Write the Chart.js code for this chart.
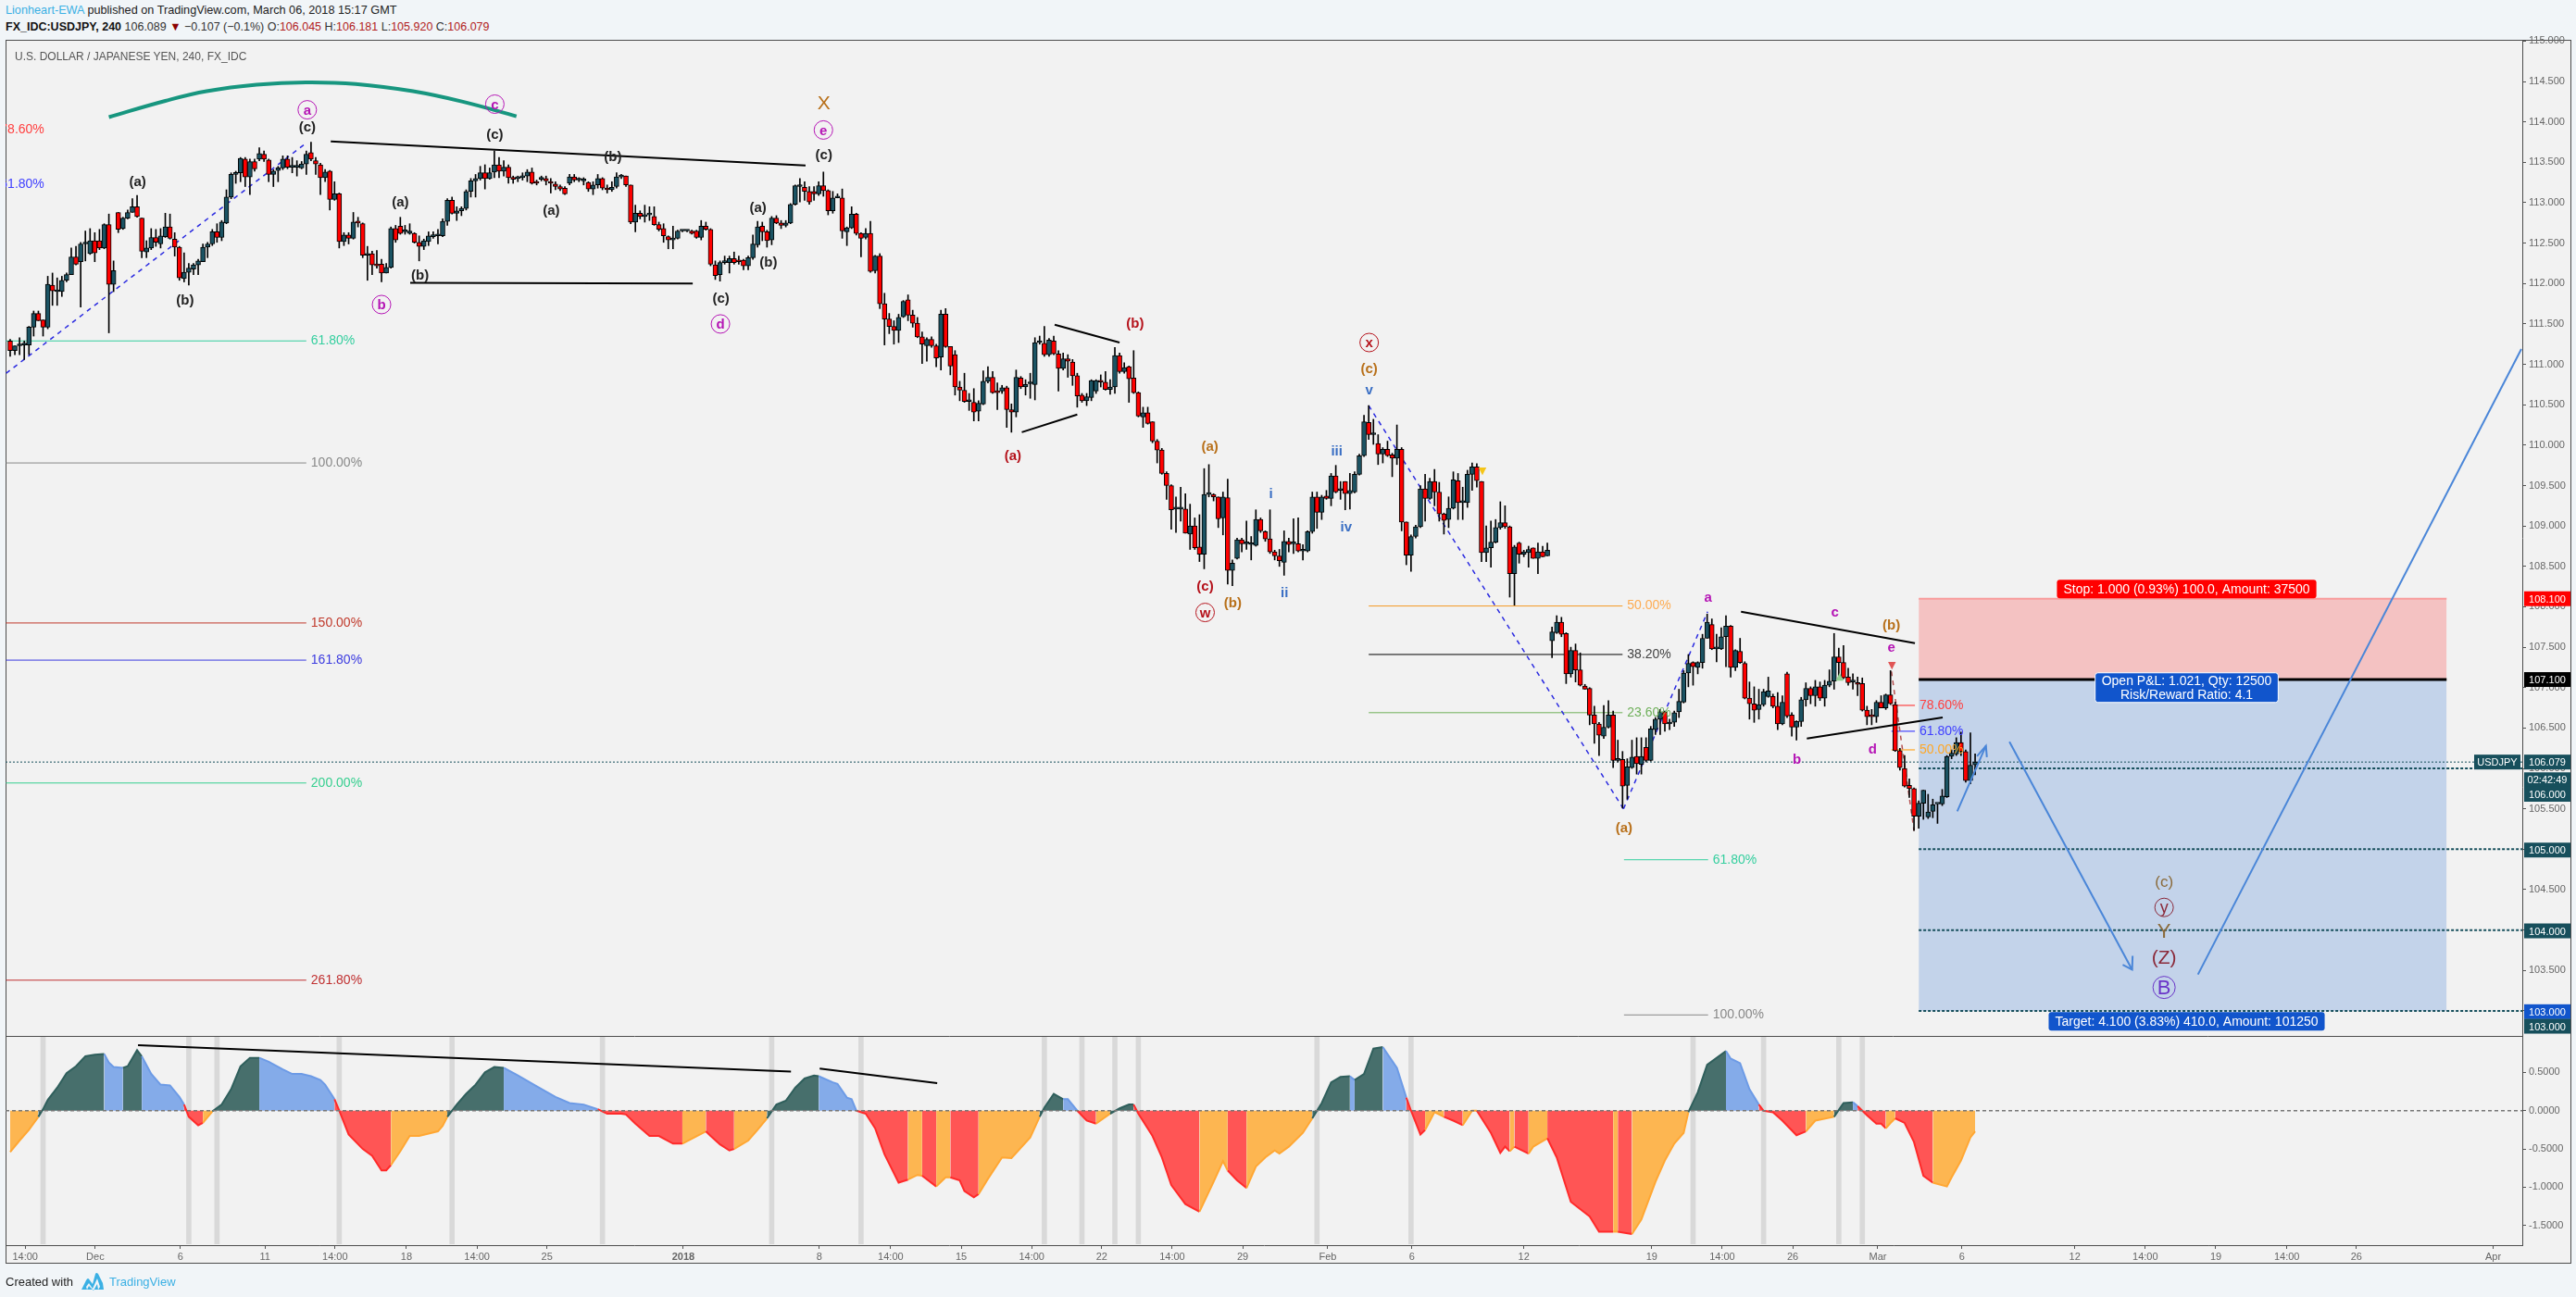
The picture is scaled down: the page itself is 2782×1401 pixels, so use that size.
<!DOCTYPE html>
<html>
<head>
<meta charset="utf-8">
<title>USDJPY 240</title>
<script src="https://cdn.jsdelivr.net/npm/chart.js@4/dist/chart.umd.min.js"></script>
<style>
  html, body { margin: 0; padding: 0; width: 2782px; height: 1401px; overflow: hidden; background: #f1f5f8; font-family: "Liberation Sans", Arial, sans-serif; }
  #frame { position: absolute; left: 6px; top: 43px; width: 2769px; height: 1320px; background: #f2f2f2; border: 1px solid #4d4d4d; }
  #usdjpyChart { position: absolute; left: 0; top: 0; }
  .txt { position: absolute; white-space: nowrap; }
  .blue { color: #3bb0e4; }
  .val { color: #b22222; }
</style>
</head>
<body>
<div class="txt" style="left:6px;top:4px;font-size:12.7px;color:#222"><span class="blue">Lionheart-EWA</span> published on TradingView.com, March 06, 2018 15:17 GMT</div>
<div class="txt" style="left:6px;top:22px;font-size:12.5px;color:#333"><b style="color:#111">FX_IDC:USDJPY, 240</b> 106.089 <span style="color:#8b0000">▼</span> −0.107 (−0.1%) O:<span class="val">106.045</span> H:<span class="val">106.181</span> L:<span class="val">105.920</span> C:<span class="val">106.079</span></div>
<div id="frame"></div>
<canvas id="usdjpyChart" width="2782" height="1401"></canvas>
<div class="txt" style="left:16px;top:54px;font-size:12px;color:#555;z-index:2">U.S. DOLLAR / JAPANESE YEN, 240, FX_IDC</div>
<div class="txt" style="left:6px;top:1377px;font-size:13px;color:#222">Created with</div>
<svg class="txt" style="left:88px;top:1374px" width="24" height="20" viewBox="0 0 24 20"><path d="M0 19 L5 9 Q7 5 9 9 L12 13 L15 2 Q16 0 18 2 L23 12 L24 19 Z M5 16 L8 12 L12 18 L17 7 L20 16 L18 19 L17 13 L13 20 L8 15 L6 19 Z" fill="#3bb0e4" fill-rule="evenodd"/></svg>
<div class="txt blue" style="left:118px;top:1377px;font-size:13px">TradingView</div>

<script>
const opens = [
  111.29,111.17,111.23,111.24,111.24,111.46,111.63,111.55,111.46,111.98,
  111.90,111.90,112.04,112.11,112.33,112.27,112.49,112.37,112.53,112.53,
  112.44,112.73,111.99,112.88,112.68,112.81,112.88,112.95,112.81,112.39,
  112.44,112.57,112.49,112.58,112.70,112.55,112.45,112.06,112.14,112.18,
  112.23,112.27,112.45,112.49,112.64,112.57,112.75,113.07,113.35,113.37,
  113.54,113.32,113.51,113.54,113.60,113.53,113.35,113.40,113.43,113.54,
  113.44,113.44,113.43,113.48,113.62,113.52,113.47,113.31,113.39,113.04,
  113.11,112.52,112.60,112.56,112.77,112.74,112.35,112.37,112.23,112.24,
  112.13,112.20,112.68,112.71,112.64,112.62,112.62,112.51,112.46,112.52,
  112.58,112.59,112.59,112.77,113.03,112.87,112.90,112.93,113.14,113.27,
  113.30,113.37,113.30,113.38,113.47,113.39,113.44,113.31,113.30,113.31,
  113.33,113.38,113.25,113.29,113.30,113.26,113.23,113.20,113.18,113.24,
  113.32,113.28,113.27,113.25,113.17,113.22,113.30,113.18,113.16,113.20,
  113.32,113.33,113.22,112.76,112.87,112.83,
  112.85,112.83,112.73,112.68,112.58,112.54,112.56,112.65,112.65,112.65,
  112.65,112.57,112.71,112.67,112.23,112.11,112.26,112.26,112.31,112.28,
  112.29,112.22,112.32,112.48,112.71,112.64,112.54,112.81,112.75,112.72,
  112.75,112.98,113.20,113.19,113.14,113.14,113.11,113.21,113.15,112.90,
  113.06,113.06,112.64,112.69,112.86,112.62,112.57,112.62,112.16,112.34,
  111.75,111.56,111.47,111.42,111.59,111.80,111.61,111.51,111.34,111.23,
  111.31,111.23,111.09,111.62,111.22,111.12,110.72,110.68,110.54,110.53,
  110.42,110.51,110.79,110.84,110.67,110.67,110.71,110.44,110.41,110.83,
  110.72,110.76,110.75,111.27,111.26,111.12,111.29,111.13,110.95,111.07,
  111.03,110.86,110.62,110.55,110.59,110.67,110.80,110.78,110.69,110.72,
  111.11,110.91,110.97,110.83,110.65,110.35,110.40,110.29,
  110.05,109.94,109.65,109.50,109.21,109.21,109.21,108.90,109.00,108.74,
  108.65,109.39,109.39,109.36,109.10,109.35,108.45,108.60,108.83,108.78,
  108.77,108.76,109.08,108.93,108.84,108.68,108.63,108.55,108.81,108.78,
  108.78,108.69,108.69,108.93,109.36,109.17,109.37,109.34,109.62,109.44,
  109.55,109.40,109.42,109.64,109.87,110.28,110.13,110.02,109.89,109.95,
  109.88,109.84,109.95,109.05,108.64,108.87,108.99,109.46,109.34,109.55,
  109.42,109.15,109.08,109.22,109.56,109.29,109.29,109.64,109.73,109.55,
  108.67,108.73,108.80,108.98,109.04,108.99,108.41,108.79,108.65,108.67,
  108.73,108.60,108.68,108.63,107.58,107.68,107.81,107.67,107.17,
  107.46,107.22,107.02,106.99,106.66,106.55,106.40,106.51,106.66,106.10,
  106.11,105.79,106.01,106.15,106.05,106.26,106.10,106.48,106.61,106.70,
  106.55,106.57,106.70,106.82,107.18,107.31,107.25,107.31,107.61,107.78,
  107.48,107.48,107.63,107.76,107.25,107.45,107.30,106.87,106.80,106.73,
  106.79,106.89,106.89,106.77,106.55,107.17,106.66,106.51,106.58,106.85,
  106.99,106.90,107.01,106.87,107.03,107.08,107.38,107.31,107.13,107.07,
  107.06,107.05,106.72,106.65,106.64,106.82,106.75,106.91,106.79,106.22,
  106.00,105.79,105.75,105.41,105.57,105.40,105.47,105.56,105.56,105.65,
  106.15,106.18,106.32,106.21,105.85,106.045
];
const closes = [
  111.17,111.23,111.24,111.24,111.46,111.63,111.54,111.46,111.99,111.91,
  111.91,112.04,112.11,112.33,112.24,112.49,112.51,112.53,112.38,112.44,
  112.73,111.99,112.16,112.67,112.81,112.88,112.95,112.83,112.40,112.44,
  112.57,112.51,112.59,112.70,112.56,112.45,112.07,112.14,112.19,112.23,
  112.28,112.45,112.49,112.64,112.57,112.76,113.07,113.35,113.37,113.55,
  113.32,113.51,113.42,113.61,113.54,113.35,113.39,113.43,113.54,113.44,
  113.44,113.44,113.48,113.60,113.54,113.48,113.31,113.38,113.04,113.11,
  112.52,112.60,112.56,112.76,112.75,112.35,112.36,112.23,112.22,112.13,
  112.20,112.68,112.54,112.62,112.65,112.65,112.51,112.46,112.53,112.59,
  112.60,112.60,112.77,113.03,112.87,112.90,112.93,113.14,113.27,113.30,
  113.37,113.30,113.37,113.47,113.39,113.44,113.31,113.29,113.30,113.33,
  113.38,113.24,113.24,113.29,113.27,113.24,113.20,113.17,113.11,113.32,
  113.28,113.28,113.28,113.17,113.22,113.30,113.18,113.16,113.19,113.32,
  113.33,113.22,112.76,112.87,112.83,112.85,
  112.85,112.73,112.67,112.59,112.54,112.56,112.65,112.65,112.65,112.62,
  112.57,112.71,112.67,112.24,112.10,112.26,112.26,112.31,112.26,112.27,
  112.22,112.32,112.49,112.70,112.64,112.53,112.81,112.75,112.72,112.75,
  112.98,113.21,113.21,113.14,113.01,113.11,113.21,113.15,112.90,113.06,
  113.07,112.65,112.69,112.86,112.62,112.56,112.62,112.15,112.34,111.75,
  111.56,111.47,111.42,111.58,111.78,111.61,111.51,111.34,111.25,111.31,
  111.23,111.08,111.62,111.22,110.98,110.72,110.68,110.54,110.54,110.41,
  110.52,110.79,110.84,110.65,110.65,110.71,110.44,110.41,110.84,110.72,
  110.75,110.76,111.27,111.27,111.12,111.30,111.13,110.95,111.07,111.04,
  110.86,110.61,110.55,110.60,110.80,110.80,110.78,110.69,110.72,111.11,
  110.91,110.96,110.82,110.65,110.36,110.40,110.27,110.05,
  109.94,109.65,109.50,109.20,109.21,109.21,108.91,109.00,108.73,108.65,
  109.39,109.39,109.36,109.09,109.36,108.45,108.54,108.83,108.78,108.78,
  108.77,109.08,108.94,108.84,108.68,108.63,108.57,108.81,108.77,108.78,
  108.69,108.69,108.93,109.36,109.17,109.36,109.34,109.62,109.42,109.44,
  109.40,109.44,109.64,109.87,110.29,110.13,110.13,109.89,109.95,109.87,
  109.84,109.95,109.05,108.64,108.87,108.99,109.46,109.34,109.55,109.42,
  109.15,109.07,109.22,109.57,109.29,109.29,109.64,109.73,109.56,108.67,
  108.73,108.80,108.98,109.04,108.99,108.41,108.74,108.65,108.68,108.71,
  108.60,108.68,108.62,108.70,107.69,107.81,107.66,107.17,107.46,
  107.22,107.03,106.98,106.66,106.55,106.41,106.51,106.66,106.10,106.11,
  105.78,106.02,106.14,106.06,106.15,106.10,106.49,106.61,106.70,106.55,
  106.57,106.69,106.83,107.18,107.30,107.26,107.31,107.61,107.81,107.48,
  107.49,107.63,107.76,107.25,107.46,107.31,106.87,106.80,106.72,106.79,
  106.95,106.96,106.77,106.55,106.82,106.65,106.51,106.58,106.85,106.99,
  106.90,107.01,106.87,107.03,107.08,107.38,107.31,107.12,107.06,107.07,
  107.04,106.72,106.64,106.64,106.82,106.75,106.91,106.80,106.22,106.01,
  105.78,105.75,105.41,105.57,105.73,105.46,105.55,105.56,105.66,106.15,
  106.19,106.32,106.21,105.85,106.04,106.079
];
const highs = [
  111.31,111.23,111.33,111.29,111.47,111.66,111.66,111.55,112.09,112.13,
  112.07,112.09,112.13,112.44,112.46,112.51,112.65,112.68,112.63,112.67,
  112.74,112.86,112.28,112.88,112.82,112.91,113.05,113.09,112.81,112.53,
  112.68,112.67,112.68,112.87,112.86,112.63,112.46,112.38,112.25,112.25,
  112.30,112.49,112.51,112.67,112.74,112.78,113.16,113.37,113.39,113.56,
  113.56,113.54,113.54,113.68,113.64,113.54,113.41,113.45,113.58,113.58,
  113.56,113.52,113.51,113.64,113.75,113.56,113.49,113.41,113.40,113.26,
  113.12,112.63,112.63,112.88,112.82,112.75,112.46,112.40,112.41,112.30,
  112.25,112.70,112.72,112.82,112.72,112.74,112.63,112.59,112.55,112.64,
  112.64,112.67,112.80,113.05,113.07,112.95,112.95,113.16,113.30,113.35,
  113.45,113.47,113.43,113.64,113.56,113.52,113.47,113.33,113.33,113.37,
  113.41,113.43,113.28,113.33,113.33,113.30,113.26,113.22,113.20,113.35,
  113.35,113.31,113.31,113.26,113.26,113.35,113.31,113.22,113.26,113.37,
  113.35,113.33,113.22,112.97,112.90,112.97,
  112.95,112.95,112.76,112.74,112.59,112.71,112.66,112.66,112.66,112.66,
  112.66,112.78,112.76,112.68,112.28,112.28,112.34,112.34,112.39,112.34,
  112.30,112.34,112.60,112.77,112.76,112.66,112.83,112.84,112.78,112.78,
  112.99,113.22,113.30,113.26,113.20,113.20,113.26,113.38,113.16,113.14,
  113.11,113.17,112.70,112.95,112.87,112.63,112.68,112.77,112.35,112.37,
  111.88,111.63,111.54,111.62,111.79,111.86,111.67,111.58,111.40,111.33,
  111.34,111.25,111.67,111.69,111.22,111.17,110.79,110.89,110.64,110.70,
  110.55,110.92,110.97,110.91,110.77,110.74,110.73,110.51,110.93,110.85,
  110.81,110.89,111.33,111.35,111.47,111.32,111.35,111.17,111.14,111.12,
  111.06,110.89,110.64,110.64,110.81,110.81,110.87,110.91,110.81,111.21,
  111.14,111.02,110.98,111.17,110.66,110.47,110.47,110.29,
  110.07,109.96,109.67,109.51,109.36,109.48,109.40,109.27,109.10,109.14,
  109.71,109.76,109.40,109.36,109.42,109.58,108.58,108.85,108.85,109.06,
  108.87,109.20,109.10,108.94,109.20,108.70,108.71,108.94,108.85,109.09,
  109.10,108.77,108.94,109.42,109.42,109.38,109.44,109.65,109.75,109.55,
  109.55,109.65,109.67,109.89,110.37,110.49,110.32,110.13,109.97,110.05,
  109.90,110.25,109.97,109.05,108.89,109.01,109.50,109.64,109.59,109.70,
  109.54,109.16,109.36,109.67,109.65,109.48,109.69,109.78,109.77,109.55,
  109.00,109.06,109.08,109.30,109.25,109.00,108.76,108.80,108.70,108.75,
  108.73,108.79,108.75,108.79,107.75,107.89,107.87,107.68,107.50,
  107.54,107.43,107.04,107.00,106.77,106.57,106.78,106.84,106.71,106.35,
  106.21,106.12,106.35,106.38,106.38,106.38,106.52,106.63,106.73,106.71,
  106.61,106.71,106.98,107.21,107.41,107.32,107.32,107.66,107.91,107.85,
  107.66,107.74,107.89,107.77,107.47,107.61,107.32,107.07,107.01,106.98,
  106.98,107.13,106.92,106.94,106.90,107.19,106.69,106.59,106.88,107.06,
  107.01,107.09,107.07,107.09,107.22,107.67,107.49,107.52,107.24,107.17,
  107.13,107.12,106.77,106.73,106.84,106.90,106.92,107.21,106.82,106.25,
  106.16,105.87,105.76,105.60,105.73,105.68,105.62,105.56,105.74,106.16,
  106.23,106.38,106.45,106.23,106.44,106.181
];
const lows = [
  111.10,111.12,111.12,111.06,111.12,111.35,111.54,111.35,111.44,111.73,
  111.73,111.84,112.02,112.11,112.23,111.71,112.28,112.36,112.27,112.42,
  112.43,111.39,111.90,112.63,112.67,112.80,112.88,112.82,112.32,112.32,
  112.42,112.46,112.44,112.57,112.55,112.34,112.04,112.02,111.98,112.11,
  112.11,112.27,112.32,112.47,112.51,112.53,112.74,113.05,113.24,113.26,
  113.20,113.10,113.39,113.52,113.51,113.26,113.20,113.26,113.41,113.42,
  113.37,113.33,113.42,113.35,113.52,113.35,113.10,113.26,112.91,113.03,
  112.44,112.47,112.49,112.55,112.70,112.32,112.04,112.11,112.19,112.02,
  112.13,112.19,112.51,112.61,112.61,112.61,112.50,112.28,112.42,112.47,
  112.56,112.49,112.58,112.72,112.86,112.78,112.84,112.91,113.07,113.07,
  113.28,113.17,113.29,113.31,113.31,113.33,113.24,113.24,113.26,113.28,
  113.26,113.23,113.22,113.27,113.22,113.12,113.16,113.15,113.10,113.22,
  113.26,113.26,113.22,113.14,113.10,113.18,113.16,113.12,113.14,113.18,
  113.30,113.20,112.74,112.64,112.80,112.76,
  112.78,112.72,112.65,112.51,112.43,112.43,112.55,112.64,112.64,112.61,
  112.56,112.54,112.66,112.22,112.05,112.03,112.24,112.13,112.24,112.24,
  112.17,112.17,112.30,112.45,112.53,112.45,112.48,112.74,112.68,112.70,
  112.74,112.97,113.01,113.03,112.98,113.03,113.09,113.08,112.85,112.87,
  113.06,112.56,112.47,112.68,112.60,112.33,112.55,112.14,112.13,111.69,
  111.24,111.38,111.25,111.27,111.58,111.54,111.46,111.33,111.01,111.04,
  111.21,110.97,110.93,111.21,110.87,110.62,110.55,110.53,110.43,110.30,
  110.30,110.50,110.77,110.64,110.44,110.64,110.22,110.16,110.35,110.70,
  110.62,110.58,110.56,111.25,111.10,111.10,111.12,110.67,110.93,110.84,
  110.74,110.47,110.53,110.49,110.55,110.64,110.72,110.68,110.63,110.64,
  110.89,110.89,110.53,110.64,110.35,110.22,110.26,110.03,
  109.78,109.64,109.33,108.96,108.92,109.06,108.91,108.71,108.71,108.56,
  108.47,109.36,109.31,108.98,108.89,108.28,108.26,108.59,108.68,108.71,
  108.58,108.75,108.92,108.81,108.66,108.58,108.50,108.39,108.68,108.66,
  108.68,108.58,108.68,108.91,108.97,109.08,109.33,109.25,109.41,109.33,
  109.20,109.21,109.41,109.63,109.86,110.07,110.01,109.76,109.78,109.86,
  109.61,109.76,108.94,108.52,108.44,108.85,108.98,109.06,109.33,109.25,
  109.06,108.90,108.98,109.21,109.08,109.08,109.23,109.44,109.48,108.56,
  108.56,108.49,108.79,108.96,108.97,108.12,108.02,108.54,108.62,108.49,
  108.60,108.41,108.62,108.63,107.37,107.67,107.63,107.05,107.13,
  107.07,107.02,106.98,106.54,106.31,106.16,106.37,106.50,106.01,106.08,
  105.51,105.62,106.00,105.93,105.93,106.08,106.09,106.42,106.42,106.46,
  106.48,106.52,106.63,106.81,107.01,107.03,107.17,107.24,107.61,107.47,
  107.32,107.47,107.26,107.13,107.21,107.30,106.86,106.61,106.57,106.61,
  106.77,106.88,106.75,106.48,106.54,106.63,106.40,106.35,106.52,106.77,
  106.80,106.77,106.84,106.77,107.01,106.98,107.11,107.11,107.03,106.98,
  106.90,106.71,106.54,106.54,106.57,106.75,106.73,106.79,106.21,105.98,
  105.77,105.64,105.23,105.26,105.37,105.38,105.39,105.32,105.54,105.64,
  106.12,106.16,106.16,105.83,105.81,105.920
];

// oscillator readings: bar number and value
const oscBars = [0,2,4,6,7,8,10,12,14,16,18,20,21,22,24,25,27,28,30,32,34,36,37,38,40,41,43,45,47,49,51,53,55,58,60,62,64,66,67,69,70,72,75,77,79,80,81,83,85,87,91,92,93,95,97,99,101,103,105,108,112,116,119,122,125,127,130,131,133,136,138,141,143,148,149,151,153,154,157,159,161,163,165,167,169,171,172,
  175,176,178,179,180,182,184,186,189,191,193,194,197,199,200,202,203,205,206,208,211,213,217,219,220,222,224,225,227,229,231,234,236,238,239,240,243,245,247,250,253,256,258,259,261,263,265,267,269,270,272,275,277,279,281,283,285,286,288,290,292,295,297,298,300,301,303,305,307,309,311,312,315,317,318,319,320,323,324,327,329,332,336,338,341,342,345,347,350,352,354,356,357,359,361,365,366,368,370,372,373,375,377,380,382,384,388,390,392,393,395,397,398,399,400,401,403,405,407,409,412,413,415,417,418];
const oscValues = [-0.54,-0.39,-0.25,-0.08,0.02,0.14,0.30,0.49,0.58,0.71,0.73,0.74,0.63,0.57,0.56,0.58,0.79,0.71,0.48,0.34,0.33,0.18,0.08,-0.08,-0.19,-0.16,-0.01,0.08,0.28,0.58,0.69,0.69,0.64,0.54,0.48,0.48,0.45,0.40,0.34,0.15,0.00,-0.31,-0.50,-0.59,-0.78,-0.78,-0.71,-0.53,-0.33,-0.33,-0.27,-0.20,-0.08,0.08,0.22,0.34,0.50,0.57,0.56,0.46,0.32,0.18,0.10,0.08,0.02,-0.04,-0.04,-0.05,-0.17,-0.33,-0.33,-0.43,-0.43,-0.27,-0.33,-0.44,-0.52,-0.50,-0.39,-0.25,-0.10,0.08,0.13,0.30,0.42,0.46,0.45,
  0.37,0.35,0.17,0.15,0.00,-0.04,-0.23,-0.57,-0.94,-0.90,-0.84,-0.85,-0.99,-0.87,-0.87,-0.91,-1.05,-1.13,-1.09,-0.89,-0.61,-0.62,-0.35,-0.08,0.04,0.22,0.15,0.15,0.00,-0.13,-0.17,-0.04,0.03,0.08,0.08,-0.04,-0.33,-0.61,-0.97,-1.22,-1.32,-0.93,-0.66,-0.78,-0.91,-1.01,-0.73,-0.61,-0.52,-0.56,-0.47,-0.29,-0.10,0.10,0.37,0.44,0.45,0.40,0.48,0.81,0.83,0.56,0.17,0.00,-0.31,-0.25,-0.02,-0.08,-0.13,-0.19,0.00,0.00,-0.29,-0.55,-0.47,-0.53,-0.47,-0.56,-0.47,-0.36,-0.61,-1.19,-1.38,-1.58,-1.58,-1.58,-1.61,-1.42,-0.93,-0.65,-0.43,-0.29,-0.02,0.24,0.60,0.78,0.68,0.62,0.28,0.08,0.00,-0.02,-0.13,-0.32,-0.27,-0.13,-0.08,0.10,0.11,0.06,-0.06,-0.17,-0.17,-0.23,-0.16,-0.10,-0.16,-0.41,-0.85,-0.94,-0.99,-0.87,-0.65,-0.35,-0.27,-0.27];
// phase of the oscillator from each start bar: D rising above zero, B falling above, R falling below, O rising below
const phaseBars = [0,6,20,24,28,37,41,43,53,69,81,93,105,125,143,148,154,161,172,180,191,194,197,200,206,219,224,227,231,234,239,253,259,263,277,285,286,292,297,301,305,309,312,319,320,323,327,341,342,345,357,365,372,382,388,392,393,399,401,409];
const phaseKinds = ['O','D','B','D','B','R','O','D','B','R','O','D','B','R','O','R','O','D','B','R','O','R','O','R','O','D','B','R','O','D','R','O','R','O','D','B','D','B','R','O','R','O','R','O','R','O','R','O','R','O','D','B','R','O','D','B','R','O','R','O'];
const highlightBars = [7,38,44,70,94,126,162,181,220,228,235,240,278,298,358,373,389,394];

const priceTicks = [103,103.5,104,104.5,105,105.5,106,106.5,107,107.5,108,108.5,109,109.5,110,110.5,111,111.5,112,112.5,113,113.5,114,114.5,115];
const oscTicks = [-1.5,-1,-0.5,0,0.5];
const timeTickBars = [3.2,18.1,36.2,54.2,69.1,84.3,99.3,114.2,143.2,172.1,187.3,202.3,217.3,232.2,247.2,262.2,280.3,298.2,322,349.2,364.2,379.2,397.3,415.2,439.2,454.2,469.2,484.3,499.1,528.2];
const timeTickLabels = ['14:00','Dec','6','11','14:00','18','14:00','25','2018','8','14:00','15','14:00','22','14:00','29','Feb','6','12','19','14:00','26','Mar','6','12','14:00','19','14:00','26','Apr'];

// wave counts: text, bar, price, colour, circled
const waveLabels = [
  ['(a)',27.1,113.26,'#222'],['(b)',37.2,111.80,'#222'],['(c)',63.2,113.94,'#222'],['a',63.2,114.15,'#b515b5',1],
  ['c',103.1,114.22,'#b515b5',1],['(c)',103.1,113.85,'#222'],['b',79,111.74,'#b515b5',1],['(a)',83,113.01,'#222'],
  ['(b)',87.2,112.11,'#222'],['(a)',115.1,112.91,'#222'],['(b)',128.2,113.57,'#222'],['(a)',159.1,112.94,'#222'],
  ['(b)',161.3,112.27,'#222'],['(c)',151.2,111.82,'#222'],['d',151.1,111.50,'#b515b5',1],['(c)',173.1,113.60,'#222'],
  ['e',173,113.90,'#b515b5',1],['(b)',239.3,111.51,'#b5121b'],['(a)',213.3,109.87,'#b5121b'],
  ['(a)',255.2,109.99,'#b8701a'],['(c)',254.2,108.26,'#b5121b'],['w',254.2,107.93,'#b5121b',1],['(b)',260.1,108.05,'#b8701a'],
  ['i',268.2,109.40,'#3a6fc4'],['ii',271.1,108.18,'#3a6fc4'],['iii',282.2,109.93,'#3a6fc4'],['iv',284.2,108.99,'#3a6fc4'],
  ['v',289.1,110.69,'#3a6fc4'],['(c)',289.1,110.95,'#b8701a'],['x',289.1,111.27,'#b5121b',1],['a',361.2,108.12,'#b515b5'],
  ['c',388.2,107.94,'#b515b5'],['(b)',400.2,107.78,'#b8701a'],['e',400.2,107.50,'#b515b5'],['d',396.2,106.24,'#b515b5'],
  ['b',380.1,106.12,'#b515b5'],['(a)',343.3,105.27,'#b8701a']
];
const markerLabels = [['▼',400.3,107.28,'#e05555'],['▼',313.2,109.69,'#f5c518'],['▲',389.2,107.15,'#8fd08f']];
// big labels: text, bar, price, colour, circled, font size
const bigLabels = [
  ['X',173.1,114.23,'#b8701a',0,21],['(c)',458.2,104.60,'#8a6a3a',0,17],['y',458.2,104.28,'#8b2a3a',1,18],
  ['Y',458.2,103.99,'#8a6a3a',0,22],['(Z)',458.2,103.66,'#8b2a3a',0,21],['B',458.2,103.29,'#6a35c8',1,22]
];

// fib levels: text, first bar, last bar, price, line colour, text colour
const fibLevels = [
  ['61.80%',-0.9,63,111.29,'#35cf9f','#35cf9f'],['100.00%',-0.9,63,109.78,'#888888','#888888'],
  ['150.00%',-0.9,63,107.80,'#c0392b','#c0392b'],['161.80%',-0.9,63,107.34,'#3a3ae0','#3a3ae0'],
  ['200.00%',-0.9,63,105.82,'#35cf8f','#35cf8f'],['261.80%',-0.9,63,103.38,'#c03030','#c03030'],
  ['50.00%',289,343,108.01,'#f59a23','#fdac53'],['38.20%',289,343,107.41,'#000000','#444444'],
  ['23.60%',289,343,106.69,'#6fb05a','#6fb05a'],['61.80%',343.3,361.2,104.87,'#35cf9f','#35cf9f'],
  ['100.00%',343.3,361.2,102.95,'#888888','#888888'],['78.60%',400.2,405.2,106.78,'#ff2020','#ff4040'],
  ['61.80%',400.2,405.2,106.46,'#2020ff','#4040ff'],['50.00%',400.2,405.2,106.23,'#ff9800','#ffa726']
];
const fibCutLabels = [['78.60%',-2.1,113.90,'#ff4040'],['61.80%',-2.1,113.23,'#4040ff']];

const trendLines = [
  [68.2,113.76,169.2,113.46],[85.1,112.01,145.2,112.00],[222.2,111.49,236,111.27],[215.2,110.16,227,110.38],
  [368.2,107.94,405.2,107.55],[382.2,106.37,411.1,106.63]
];
const oscTrendLines = [[27.2,0.855,166.1,0.51],[172.2,0.55,197.2,0.36]];
const arcBars = [21,33,41.8,52.4,62.9,73.5,85.7,96.3,107.7];
const arcPrices = [114.06,114.26,114.38,114.46,114.49,114.47,114.38,114.25,114.07];
const waveDashes = [[-0.85,110.89,63,113.74],[289,110.49,343.2,105.50],[343.2,105.50,361.1,107.94]];
const arrowPaths = [
  [[414.2,105.47],[420.3,106.28]],[[418.4,106.15],[420.3,106.28],[420.5,106.14]],
  [[425.3,106.33],[451.4,103.51]],[[449.4,103.57],[451.4,103.51],[451.5,103.68]],
  [[465.4,103.45],[534.2,111.19]]
];
const positionBars = [406,518.3];
const lastPrice = 106.079;
const stopPrice = 108.1, entryPrice = 107.1, targetPrice = 103;
const dottedLevels = [106,105,104,103];

// axis badges: text, price, background
const axisBadges = [
  ['108.100',108.1,'#ff0000'],['107.100',107.1,'#000000'],['106.079',106.079,'#174f5c'],['02:42:49',105.86,'#174f5c'],
  ['106.000',105.68,'#174f5c'],['105.000',104.99,'#174f5c'],['104.000',103.99,'#174f5c'],['103.000',102.99,'#1155cc'],['103.000',102.81,'#174f5c']
];
const noteBoxes = [
  [['Stop: 1.000 (0.93%) 100.0, Amount: 37500'],463,108.22,'#ff0000'],
  [['Open P&L: 1.021, Qty: 12500','Risk/Reward Ratio: 4.1'],463,107.0,'#1155cc'],
  [['Target: 4.100 (3.83%) 410.0, Amount: 101250'],463,102.87,'#1155cc']
];

const phaseColors = {
  D: { line: '#2f5f5c', fill: '#476f6c' },
  B: { line: '#6d9be6', fill: '#84abe9' },
  R: { line: '#ff2a2a', fill: '#ff5555' },
  O: { line: '#ffa733', fill: '#fdb651' }
};

function phaseAt(bar) {
  let kind = phaseKinds[0];
  phaseBars.forEach((start, i) => { if (bar >= start) kind = phaseKinds[i]; });
  return phaseColors[kind];
}

function lineSet(points, color, width, extra) {
  return Object.assign({
    type: 'line', data: points.map(p => ({ x: p[0], y: p[1] })), xAxisID: 'x', yAxisID: 'y',
    borderColor: color, borderWidth: width, pointRadius: 0, fill: false, order: 2
  }, extra || {});
}

function buildDatasets() {
  const sets = [];
  const barXmin = -0.98, barXmax = 534.4;

  sets.push(lineSet([[positionBars[0], stopPrice], [positionBars[1], stopPrice]], '#f89c9c', 2,
    { fill: { value: entryPrice }, backgroundColor: '#f4c2c2', order: 20 }));
  sets.push(lineSet([[positionBars[0], entryPrice], [positionBars[1], entryPrice]], '#000000', 3,
    { fill: { value: targetPrice }, backgroundColor: '#c3d3ea', order: 19 }));
  dottedLevels.forEach(level => {
    sets.push(lineSet([[positionBars[0], level], [barXmax, level]], '#174f5c', 2, { borderDash: [3, 2], order: 18 }));
  });
  sets.push(lineSet([[barXmin, lastPrice], [barXmax, lastPrice]], '#174f5c', 1, { borderDash: [2, 2], order: 17 }));

  fibLevels.forEach(f => sets.push(lineSet([[f[1], f[3]], [f[2], f[3]]], f[4], 1, { order: 16 })));
  waveDashes.forEach(d => sets.push(lineSet([[d[0], d[1]], [d[2], d[3]]], '#2a2ae0', 1.5, { borderDash: [5, 5], order: 15 })));
  sets.push(lineSet([[400.2, 107.2], [405, 105.23]], '#b55050', 1.5, { borderDash: [5, 5], order: 15 }));

  sets.push({
    type: 'bar', data: closes.map((c, i) => ({ x: i, y: [lows[i], highs[i]] })), xAxisID: 'x', yAxisID: 'y',
    backgroundColor: '#000000', barThickness: 1, grouped: false, order: 6
  });
  sets.push({
    type: 'bar', data: closes.map((c, i) => ({ x: i, y: [opens[i], c] })), xAxisID: 'x', yAxisID: 'y',
    backgroundColor: closes.map((c, i) => (c >= opens[i] ? '#1b5363' : '#ff0000')),
    borderColor: '#000000', borderWidth: 1, borderSkipped: false, minBarLength: 2, barThickness: 5, grouped: false, order: 5
  });

  trendLines.forEach(t => sets.push(lineSet([[t[0], t[1]], [t[2], t[3]]], '#000000', 2, { order: 3 })));
  sets.push(lineSet(arcBars.map((b, i) => [b, arcPrices[i]]), '#17967f', 4, { tension: 0.4, order: 3 }));
  arrowPaths.forEach(a => sets.push(lineSet(a, '#4a86d8', 2, { order: 2 })));

  sets.push({
    type: 'bar', data: highlightBars.map(b => ({ x: b, y: [-1.74, 0.976] })), xAxisID: 'x', yAxisID: 'y2',
    backgroundColor: '#d9d9d9', barThickness: 5, grouped: false, order: 12
  });
  sets.push({
    type: 'line', data: oscBars.map((b, i) => ({ x: b, y: oscValues[i] })), xAxisID: 'x', yAxisID: 'y2',
    borderWidth: 2, pointRadius: 0, fill: { value: 0 }, backgroundColor: '#84abe9', borderColor: '#6d9be6', order: 10,
    segment: {
      borderColor: ctx => phaseAt(ctx.p0.parsed.x).line,
      backgroundColor: ctx => phaseAt(ctx.p0.parsed.x).fill
    }
  });
  sets.push(lineSet([[barXmin, 0], [barXmax, 0]], '#777777', 1.5, { yAxisID: 'y2', borderDash: [4, 3], order: 9 }));
  oscTrendLines.forEach(t => sets.push(lineSet([[t[0], t[1]], [t[2], t[3]]], '#000000', 2, { yAxisID: 'y2', order: 3 })));
  return sets;
}

const chartText = {
  id: 'chartText',
  afterDatasetsDraw(chart) {
    const ctx = chart.ctx, xs = chart.scales.x, ys = chart.scales.y;
    const area = chart.chartArea;
    const family = '"Liberation Sans", Arial, sans-serif';
    ctx.save();
    ctx.textBaseline = 'middle';

    // pane divider
    ctx.strokeStyle = '#4d4d4d';
    ctx.lineWidth = 1;
    ctx.beginPath();
    ctx.moveTo(area.left, Math.round(ys.bottom) + 0.5);
    ctx.lineTo(area.right, Math.round(ys.bottom) + 0.5);
    ctx.stroke();

    ctx.save();
    ctx.beginPath();
    ctx.rect(area.left, area.top, area.right - area.left, ys.bottom - area.top);
    ctx.clip();

    ctx.textAlign = 'left';
    ctx.font = '14px ' + family;
    fibLevels.forEach(f => {
      ctx.fillStyle = f[5];
      ctx.fillText(f[0], xs.getPixelForValue(f[2]) + 5, ys.getPixelForValue(f[3]));
    });
    fibCutLabels.forEach(f => {
      ctx.fillStyle = f[3];
      ctx.fillText(f[0], xs.getPixelForValue(f[1]), ys.getPixelForValue(f[2]));
    });

    ctx.textAlign = 'center';
    const drawWave = (w, font, radius) => {
      const px = xs.getPixelForValue(w[1]), py = ys.getPixelForValue(w[2]);
      ctx.font = font;
      ctx.fillStyle = w[3];
      ctx.fillText(w[0], px, py + 1);
      if (w[4]) {
        ctx.strokeStyle = w[3];
        ctx.lineWidth = 1;
        ctx.beginPath();
        ctx.arc(px, py, radius, 0, Math.PI * 2);
        ctx.stroke();
      }
    };
    waveLabels.forEach(w => drawWave(w, 'bold 15px ' + family, 10));
    markerLabels.forEach(w => drawWave(w, '11px "DejaVu Sans"', 0));
    bigLabels.forEach(w => drawWave(w, w[5] + 'px ' + family, w[0] === 'B' ? 12 : 10));
    ctx.restore();

    // note boxes on the position tool
    ctx.textAlign = 'center';
    ctx.font = '14px ' + family;
    noteBoxes.forEach(n => {
      const px = xs.getPixelForValue(n[1]), py = ys.getPixelForValue(n[2]);
      const w = Math.max(...n[0].map(t => ctx.measureText(t).width)) + 14;
      const h = n[0].length === 1 ? 20 : 32;
      ctx.fillStyle = n[3];
      ctx.strokeStyle = '#ffffff';
      ctx.lineWidth = 1;
      ctx.beginPath();
      ctx.roundRect(px - w / 2, py - h / 2, w, h, 3);
      ctx.fill();
      if (n[0].length > 1) ctx.stroke();
      ctx.fillStyle = '#ffffff';
      n[0].forEach((t, i) => ctx.fillText(t, px, py + (i - (n[0].length - 1) / 2) * 15 + 1));
    });

    // badges over the price axis
    ctx.font = '11px ' + family;
    axisBadges.forEach(b => {
      const py = ys.getPixelForValue(b[1]);
      ctx.fillStyle = b[2];
      ctx.fillRect(ys.left + 2, py - 8, 50, 16);
      ctx.fillStyle = '#ffffff';
      ctx.fillText(b[0], ys.left + 27, py + 1);
    });
    const symbolY = ys.getPixelForValue(lastPrice);
    ctx.fillStyle = '#174f5c';
    ctx.fillRect(ys.left - 52, symbolY - 8, 50, 16);
    ctx.fillStyle = '#ffffff';
    ctx.fillText('USDJPY', ys.left - 27, symbolY + 1);
    ctx.restore();
  }
};

function axisSize(key, size) {
  return scale => { scale[key] = size; };
}

function renderChart() {
  new Chart(document.getElementById('usdjpyChart'), {
    type: 'bar',
    data: { datasets: buildDatasets() },
    plugins: [chartText],
    options: {
      responsive: false,
      animation: false,
      events: [],
      layout: { padding: { left: 6, top: 43, right: 6, bottom: 37 } },
      plugins: { legend: { display: false }, tooltip: { enabled: false } },
      scales: {
        x: {
          type: 'linear', position: 'bottom', min: -0.98, max: 534.4, offset: false,
          grid: { drawOnChartArea: false, drawTicks: true, tickLength: 4, color: '#555555', offset: false },
          border: { display: true, color: '#4d4d4d' },
          afterFit: axisSize('height', 19),
          afterBuildTicks: axis => { axis.ticks = timeTickBars.map(v => ({ value: v })); },
          ticks: {
            autoSkip: false, maxRotation: 0, minRotation: 0, padding: 2, color: '#666666',
            font: ctx => ({ size: 11, family: '"Liberation Sans", Arial, sans-serif', weight: ctx.index === 8 ? 'bold' : 'normal' }),
            callback: (v, i) => timeTickLabels[i]
          }
        },
        y: {
          type: 'linear', position: 'right', stack: 'panes', stackWeight: 1076, min: 102.69, max: 115.016,
          grid: { drawOnChartArea: false, drawTicks: true, tickLength: 4, color: '#555555' },
          border: { display: true, color: '#4d4d4d' },
          afterFit: axisSize('width', 52),
          afterBuildTicks: axis => { axis.ticks = priceTicks.map(v => ({ value: v })); },
          ticks: { autoSkip: false, padding: 3, color: '#666666', font: { size: 11, family: '"Liberation Sans", Arial, sans-serif' }, callback: v => v.toFixed(3) }
        },
        y2: {
          type: 'linear', position: 'right', stack: 'panes', stackWeight: 226, min: -1.756, max: 0.976,
          grid: { drawOnChartArea: false, drawTicks: true, tickLength: 4, color: '#555555' },
          border: { display: true, color: '#4d4d4d' },
          afterFit: axisSize('width', 52),
          afterBuildTicks: axis => { axis.ticks = oscTicks.map(v => ({ value: v })); },
          ticks: { autoSkip: false, padding: 3, color: '#666666', font: { size: 11, family: '"Liberation Sans", Arial, sans-serif' }, callback: v => v.toFixed(4) }
        }
      }
    }
  });
}

window.addEventListener('load', renderChart);
</script>
</body>
</html>
